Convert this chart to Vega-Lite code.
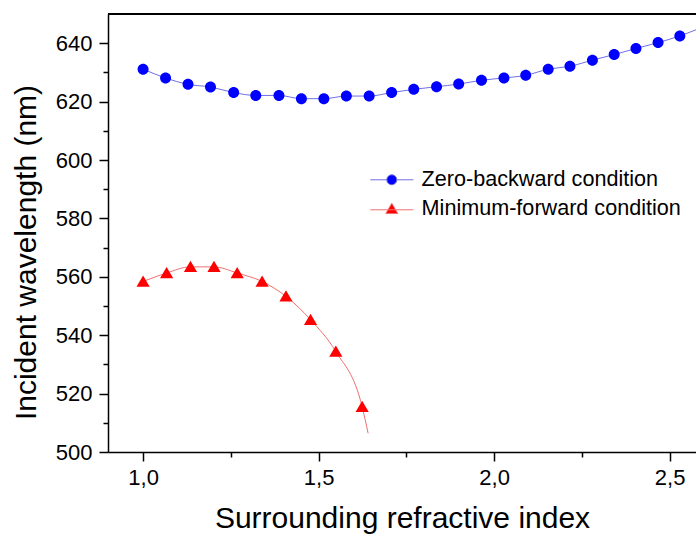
{
  "$schema": "https://vega.github.io/schema/vega-lite/v6.json",
  "width": 588,
  "height": 438,
  "autosize": {"type": "none"},
  "padding": {"left": 108, "top": 14, "right": 0, "bottom": 84},
  "background": "white",
  "config": {
    "font": "Liberation Sans",
    "view": {"stroke": null},
    "axis": {
      "grid": false,
      "domainColor": "black",
      "domainWidth": 1.5,
      "tickColor": "black",
      "tickWidth": 1.5,
      "labelColor": "black",
      "titleColor": "black",
      "labelFont": "Liberation Sans",
      "titleFont": "Liberation Sans",
      "labelFontSize": 22,
      "titleFontSize": 30,
      "titleFontWeight": "normal"
    }
  },
  "data": {
    "values": [
      {"series": "Zero-backward condition", "n": 1.000, "wl": 631.1, "kind": "point"},
      {"series": "Zero-backward condition", "n": 1.064, "wl": 628.1, "kind": "point"},
      {"series": "Zero-backward condition", "n": 1.128, "wl": 625.9, "kind": "point"},
      {"series": "Zero-backward condition", "n": 1.192, "wl": 625.0, "kind": "point"},
      {"series": "Zero-backward condition", "n": 1.258, "wl": 623.1, "kind": "point"},
      {"series": "Zero-backward condition", "n": 1.321, "wl": 622.1, "kind": "point"},
      {"series": "Zero-backward condition", "n": 1.387, "wl": 622.1, "kind": "point"},
      {"series": "Zero-backward condition", "n": 1.451, "wl": 621.0, "kind": "point"},
      {"series": "Zero-backward condition", "n": 1.515, "wl": 621.0, "kind": "point"},
      {"series": "Zero-backward condition", "n": 1.579, "wl": 621.9, "kind": "point"},
      {"series": "Zero-backward condition", "n": 1.644, "wl": 621.9, "kind": "point"},
      {"series": "Zero-backward condition", "n": 1.708, "wl": 623.1, "kind": "point"},
      {"series": "Zero-backward condition", "n": 1.771, "wl": 624.2, "kind": "point"},
      {"series": "Zero-backward condition", "n": 1.836, "wl": 625.1, "kind": "point"},
      {"series": "Zero-backward condition", "n": 1.899, "wl": 626.0, "kind": "point"},
      {"series": "Zero-backward condition", "n": 1.964, "wl": 627.3, "kind": "point"},
      {"series": "Zero-backward condition", "n": 2.028, "wl": 628.1, "kind": "point"},
      {"series": "Zero-backward condition", "n": 2.090, "wl": 629.0, "kind": "point"},
      {"series": "Zero-backward condition", "n": 2.154, "wl": 631.1, "kind": "point"},
      {"series": "Zero-backward condition", "n": 2.216, "wl": 632.1, "kind": "point"},
      {"series": "Zero-backward condition", "n": 2.280, "wl": 634.2, "kind": "point"},
      {"series": "Zero-backward condition", "n": 2.342, "wl": 636.1, "kind": "point"},
      {"series": "Zero-backward condition", "n": 2.404, "wl": 638.2, "kind": "point"},
      {"series": "Zero-backward condition", "n": 2.467, "wl": 640.2, "kind": "point"},
      {"series": "Zero-backward condition", "n": 2.529, "wl": 642.5, "kind": "point"},
      {"series": "Zero-backward condition", "n": 2.575, "wl": 644.6, "kind": "curve"},
      {"series": "Minimum-forward condition", "n": 1.000, "wl": 558.4, "kind": "point"},
      {"series": "Minimum-forward condition", "n": 1.067, "wl": 561.3, "kind": "point"},
      {"series": "Minimum-forward condition", "n": 1.135, "wl": 563.4, "kind": "point"},
      {"series": "Minimum-forward condition", "n": 1.202, "wl": 563.4, "kind": "point"},
      {"series": "Minimum-forward condition", "n": 1.268, "wl": 561.3, "kind": "point"},
      {"series": "Minimum-forward condition", "n": 1.339, "wl": 558.4, "kind": "point"},
      {"series": "Minimum-forward condition", "n": 1.407, "wl": 553.3, "kind": "point"},
      {"series": "Minimum-forward condition", "n": 1.477, "wl": 545.3, "kind": "point"},
      {"series": "Minimum-forward condition", "n": 1.549, "wl": 534.4, "kind": "point"},
      {"series": "Minimum-forward condition", "n": 1.624, "wl": 515.5, "kind": "point"},
      {"series": "Minimum-forward condition", "n": 1.641, "wl": 506.4, "kind": "curve"}
    ]
  },
  "encoding": {
    "x": {
      "field": "n",
      "type": "quantitative",
      "scale": {"domain": [0.9, 2.575], "nice": false, "zero": false},
      "axis": {
        "title": "Surrounding refractive index",
        "values": [1.0, 1.25, 1.5, 1.75, 2.0, 2.25, 2.5],
        "labelExpr": "abs(datum.value*2 - round(datum.value*2)) < 0.001 ? replace(format(datum.value, '.1f'), '.', ',') : ''",
        "tickSize": {"condition": {"test": "abs(datum.value*2 - round(datum.value*2)) < 0.001", "value": 9}, "value": 5},
        "labelFontSize": 22,
        "labelPadding": 6,
        "titlePadding": 15,
        "labelFlush": false,
        "labelOverlap": false
      }
    },
    "y": {
      "field": "wl",
      "type": "quantitative",
      "scale": {"domain": [500, 650], "nice": false, "zero": false},
      "axis": {
        "title": "Incident wavelength (nm)",
        "values": [500, 510, 520, 530, 540, 550, 560, 570, 580, 590, 600, 610, 620, 630, 640],
        "labelExpr": "datum.value % 20 === 0 ? datum.label : ''",
        "tickSize": {"condition": {"test": "datum.value % 20 === 0", "value": 9}, "value": 5},
        "labelFontSize": 22,
        "labelPadding": 7,
        "titlePadding": 14,
        "titleY": 238,
        "labelFlush": false,
        "labelOverlap": false
      }
    }
  },
  "layer": [
    {
      "mark": {"type": "rule", "color": "black", "strokeWidth": 1.5},
      "encoding": {"y": {"datum": 650}, "x": null}
    },
    {
      "transform": [{"filter": "datum.series === 'Zero-backward condition'"}],
      "mark": {"type": "line", "interpolate": "monotone", "color": "#6f6fe6", "strokeWidth": 1}
    },
    {
      "transform": [{"filter": "datum.series === 'Minimum-forward condition'"}],
      "mark": {"type": "line", "interpolate": "monotone", "color": "#f07070", "strokeWidth": 1}
    },
    {
      "transform": [{"filter": "datum.kind === 'point'"}],
      "mark": {"type": "point", "filled": true, "size": 121, "strokeWidth": 0, "opacity": 1},
      "encoding": {
        "fill": {
          "field": "series",
          "type": "nominal",
          "scale": {"domain": ["Zero-backward condition", "Minimum-forward condition"], "range": ["#0000ff", "#ff0000"]},
          "legend": {"title": null, "orient": "none", "legendX": 273, "legendY": 155, "padding": 0, "labelFontSize": 21.6, "labelFont": "Liberation Sans", "labelColor": "black", "labelOffset": 19, "labelLimit": 0, "rowPadding": 6, "symbolStrokeWidth": 1}
        },
        "stroke": {
          "field": "series",
          "type": "nominal",
          "scale": {"domain": ["Zero-backward condition", "Minimum-forward condition"], "range": ["#7070e0", "#f07070"]},
          "legend": {"title": null, "orient": "none", "legendX": 273, "legendY": 155, "padding": 0, "labelFontSize": 21.6, "labelFont": "Liberation Sans", "labelColor": "black", "labelOffset": 19, "labelLimit": 0, "rowPadding": 6, "symbolStrokeWidth": 1}
        },
        "shape": {
          "field": "series",
          "type": "nominal",
          "scale": {"domain": ["Zero-backward condition", "Minimum-forward condition"], "range": ["M-4.3,0H-1M1,0H4.3M-1,0A1,1 0 1,0 1,0A1,1 0 1,0 -1,0Z", "M-4.3,0.2H4.3M0,-1.1L1.2,0.95L-1.2,0.95Z"]},
          "legend": {"title": null, "orient": "none", "legendX": 273, "legendY": 155, "padding": 0, "labelFontSize": 21.6, "labelFont": "Liberation Sans", "labelColor": "black", "labelOffset": 19, "labelLimit": 0, "rowPadding": 6, "symbolStrokeWidth": 1}
        }
      }
    }
  ]
}
